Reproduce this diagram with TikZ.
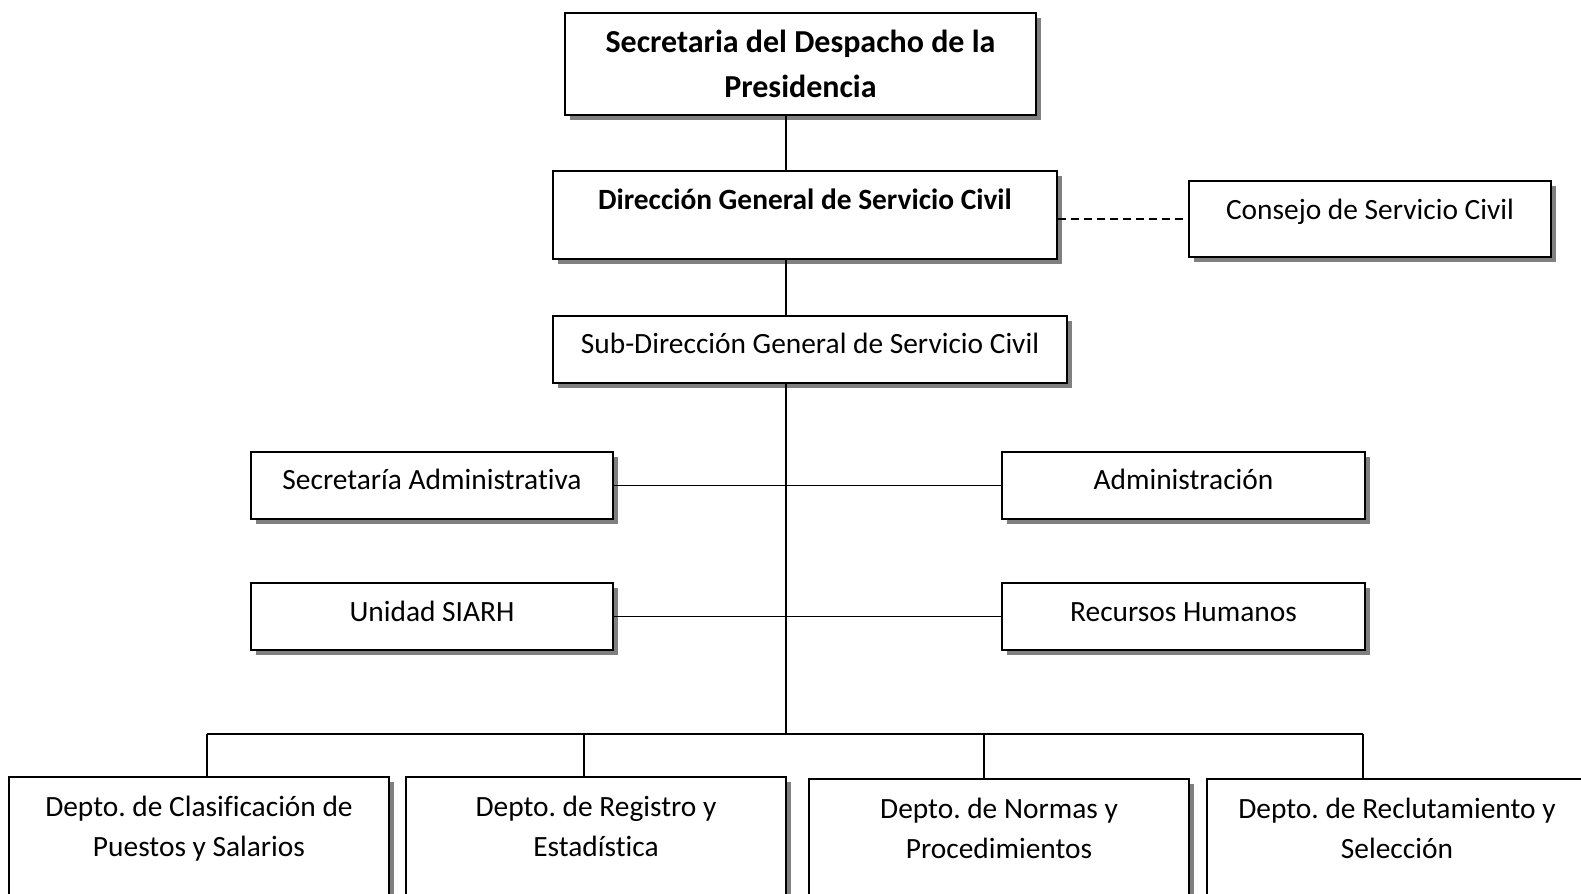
\documentclass[tikz,border=0pt]{standalone}
\usepackage{fontspec}
\setmainfont{Carlito}[Ligatures=NoCommon]
\usetikzlibrary{shadows}

\tikzset{
  unit/.style={draw, fill=white, line width=1pt, anchor=north west, inner sep=0pt, align=center,
    font=\fontsize{14.7}{20}\selectfont,
    execute at begin node={\spaceskip=\fontdimen2\font\relax\xspaceskip=\fontdimen2\font\relax},
    drop shadow={shadow xshift=2.5pt, shadow yshift=-2.5pt, fill=black!50, opacity=1}},
  head/.style={font=\fontsize{14.7}{20}\selectfont\bfseries},
  link/.style={line width=0.8pt}
}

\begin{document}
\begin{tikzpicture}[x=0.5pt, y=-0.5pt]
  \clip (0,0) rectangle (1581,894);
  % top of the chart
  \draw (564,12) node [unit, font=\fontsize{16}{22.5}\selectfont\bfseries, text width=235.5pt, text height=20pt, text depth=31pt] (sdp) {Secretaria del Despacho de la\\Presidencia};
  \draw (552,170) node [unit, head, text width=252pt, text height=19pt, text depth=25pt] (dgsc) {Dirección General de Servicio Civil};
  \draw (1188,180) node [unit, text width=181pt, text height=19pt, text depth=19pt] (consejo) {Consejo de Servicio Civil};
  \draw (552,315) node [unit, text width=257pt, text height=18.5pt, text depth=15pt] (sub) {Sub-Dirección General de Servicio Civil};
  % staff units
  \draw (250,451) node [unit, text width=181pt, text height=18.5pt, text depth=15pt] (sadm) {Secretaría Administrativa};
  \draw (1001,451) node [unit, text width=181.5pt, text height=18.5pt, text depth=15pt] (adm) {Administración};
  \draw (250,582) node [unit, text width=181pt, text height=19pt, text depth=14.5pt] (siarh) {Unidad SIARH};
  \draw (1001,582) node [unit, text width=181.5pt, text height=19pt, text depth=14.5pt] (rrhh) {Recursos Humanos};
  % departments
  \draw (8,776) node [unit, text width=190pt, text height=19.5pt, text depth=80pt] (dep1) {Depto. de Clasificación de\\Puestos y Salarios};
  \draw (405,776) node [unit, text width=190pt, text height=19.5pt, text depth=80pt] (dep2) {Depto. de Registro y\\Estadística};
  \draw (808,778) node [unit, text width=190pt, text height=19.5pt, text depth=80pt] (dep3) {Depto. de Normas y\\Procedimientos};
  \draw (1206,778) node [unit, text width=190pt, text height=19.5pt, text depth=80pt] (dep4) {Depto. de Reclutamiento y\\Selección};

  \coordinate (bus) at (786,734);
  \coordinate (c1) at (207,734);
  \coordinate (c2) at (584,734);
  \coordinate (c3) at (984,734);
  \coordinate (c4) at (1363,734);

  \draw [link]
    (sdp.south -| bus) edge (dgsc.north -| bus)
    (dgsc.south -| bus) edge (sub.north -| bus)
    (sub.south -| bus) edge (bus)
    (sadm.east) edge (adm.west)
    (siarh.east) edge (rrhh.west)
    (c1) edge (c4)
    (c1) edge (c1 |- dep1.north)
    (c2) edge (c2 |- dep2.north)
    (c3) edge (c3 |- dep3.north)
    (c4) edge (c4 |- dep4.north)
  ;
  \draw [link, dash pattern=on 4pt off 2.5pt] (consejo.west -| dgsc.east) -- (consejo.west);
\end{tikzpicture}
\end{document}
